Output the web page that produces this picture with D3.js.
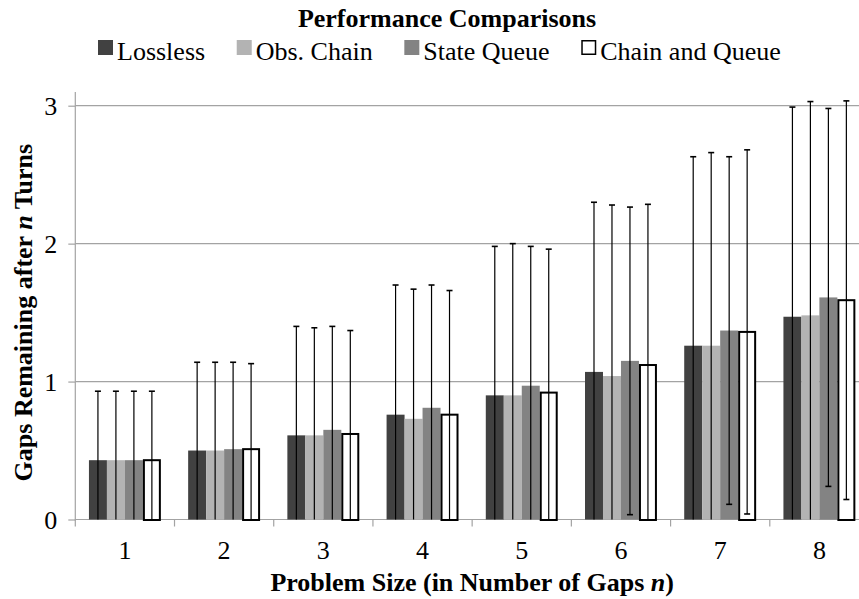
<!DOCTYPE html>
<html>
<head>
<meta charset="utf-8">
<script src="https://cdn.jsdelivr.net/npm/d3@7"></script>
<style>
  html, body { margin: 0; padding: 0; background: #fff; }
  svg { display: block; }
  text { font-family: "Liberation Serif", "Times New Roman", serif; fill: #000; }
</style>
</head>
<body>
<svg id="chart" width="859" height="599"></svg>
<script>
const categories = ["1", "2", "3", "4", "5", "6", "7", "8"];
const seriesNames = ["Lossless", "Obs. Chain", "State Queue", "Chain and Queue"];
const lossless    = [0.43, 0.50, 0.61, 0.76, 0.90, 1.07, 1.26, 1.47];
const obsChain    = [0.43, 0.50, 0.61, 0.73, 0.90, 1.04, 1.26, 1.48];
const stateQueue  = [0.43, 0.51, 0.65, 0.81, 0.97, 1.15, 1.37, 1.61];
const chainQueue  = [0.43, 0.51, 0.62, 0.76, 0.92, 1.12, 1.36, 1.59];
const errLossless   = [0.50, 0.64, 0.79, 0.94, 1.08, 1.23, 1.37, 1.52];
const errObsChain   = [0.50, 0.64, 0.78, 0.94, 1.10, 1.24, 1.40, 1.55];
const errStateQueue = [0.50, 0.63, 0.75, 0.89, 1.01, 1.115, 1.26, 1.37];
const errChainQueue = [0.50, 0.62, 0.75, 0.90, 1.04, 1.165, 1.32, 1.445];
const yTicks = [0, 1, 2, 3];

const seriesValues = [lossless, obsChain, stateQueue, chainQueue];
const seriesErrors = [errLossless, errObsChain, errStateQueue, errChainQueue];
const fills = ["#414141", "#b3b3b3", "#838383", "#ffffff"];

const svg = d3.select("#chart");
const pLeft = 75.3, pRight = 869, pTop = 105.7, pBottom = 519.5;
const gridColor = "#a3a3a3";

const x = d3.scaleBand().domain(categories).range([pLeft, pRight]).paddingInner(0.275).paddingOuter(0.1375);
const xs = d3.scaleBand().domain(seriesNames).range([0, x.bandwidth()]);
const y = d3.scaleLinear().domain([0, 3]).range([pBottom, pTop]);

// gridlines
svg.append("g").selectAll("line").data(yTicks.filter(d => d > 0)).join("line")
  .attr("x1", pLeft).attr("x2", pRight)
  .attr("y1", d => y(d)).attr("y2", d => y(d))
  .attr("stroke", gridColor).attr("stroke-width", 1.2);

// y axis
const yAxis = svg.append("g").attr("transform", `translate(${pLeft},0)`)
  .call(d3.axisLeft(y).tickValues(yTicks).tickSize(7).tickFormat(d3.format("d")));
yAxis.select(".domain").remove();
yAxis.selectAll(".tick line").attr("stroke", gridColor).attr("stroke-width", 1.2);
yAxis.selectAll(".tick text").attr("x", -18).attr("dy", "0.33em")
  .style("font-size", "26px").style("font-family", '"Liberation Serif", serif');
svg.append("line").attr("x1", pLeft).attr("x2", pLeft).attr("y1", y(3.1)).attr("y2", pBottom + 1)
  .attr("stroke", gridColor).attr("stroke-width", 1.2);

// x axis
const xAxis = svg.append("g").attr("transform", `translate(0,${pBottom})`)
  .call(d3.axisBottom(x).tickSize(0));
xAxis.select(".domain").remove();
xAxis.selectAll(".tick text").attr("y", 39.5).attr("dy", 0)
  .style("font-size", "26px").style("font-family", '"Liberation Serif", serif');
svg.append("line").attr("x1", pLeft).attr("x2", pRight).attr("y1", pBottom).attr("y2", pBottom)
  .attr("stroke", gridColor).attr("stroke-width", 1.2);
const step = x.step();
svg.append("g").selectAll("line").data(d3.range(categories.length + 1)).join("line")
  .attr("x1", i => pLeft + i * step).attr("x2", i => pLeft + i * step)
  .attr("y1", pBottom).attr("y2", pBottom + 7)
  .attr("stroke", gridColor).attr("stroke-width", 1.2);

// bars
const groups = svg.append("g").selectAll("g").data(categories).join("g")
  .attr("transform", d => `translate(${x(d)},0)`);

seriesNames.forEach((name, si) => {
  const isOutline = si === 3;
  groups.append("rect")
    .attr("x", () => xs(name) + (isOutline ? 1 : 0))
    .attr("width", xs.bandwidth() - (isOutline ? 2 : 0))
    .attr("y", (d, i) => y(seriesValues[si][i]))
    .attr("height", (d, i) => pBottom - y(seriesValues[si][i]) + (isOutline ? 0.5 : 0))
    .attr("fill", fills[si])
    .attr("stroke", isOutline ? "#000" : "none")
    .attr("stroke-width", isOutline ? 2 : 0);
});

// error bars
seriesNames.forEach((name, si) => {
  const cx = xs(name) + xs.bandwidth() / 2;
  const vals = seriesValues[si], errs = seriesErrors[si];
  const hi = d => { const i = categories.indexOf(d); return y(vals[i] + errs[i]); };
  const lo = d => { const i = categories.indexOf(d); return y(Math.max(0, vals[i] - errs[i])); };
  const eb = groups.append("g");
  eb.append("line")
    .attr("x1", cx).attr("x2", cx)
    .attr("y1", hi).attr("y2", lo)
    .attr("stroke", "#000").attr("stroke-width", 1.2);
  eb.append("line")
    .attr("x1", cx - 3).attr("x2", cx + 3)
    .attr("y1", hi).attr("y2", hi)
    .attr("stroke", "#000").attr("stroke-width", 1.6);
  eb.filter(d => { const i = categories.indexOf(d); return vals[i] - errs[i] > 0; })
    .append("line")
    .attr("x1", cx - 3).attr("x2", cx + 3)
    .attr("y1", lo).attr("y2", lo)
    .attr("stroke", "#000").attr("stroke-width", 1.6);
});

// title
svg.append("text").attr("x", 447).attr("y", 26.5).attr("text-anchor", "middle")
  .style("font-size", "26px").style("font-weight", "bold").text("Performance Comparisons");

// legend
let lx = 98;
seriesNames.forEach((name, si) => {
  svg.append("rect").attr("x", lx + (si === 3 ? 0.75 : 0)).attr("y", 40 + (si === 3 ? 0.75 : 0))
    .attr("width", si === 3 ? 13.5 : 15).attr("height", si === 3 ? 13.5 : 15)
    .attr("fill", fills[si]).attr("stroke", si === 3 ? "#000" : "none").attr("stroke-width", 1.5);
  const t = svg.append("text").attr("x", lx + 19).attr("y", 60).style("font-size", "26px").text(name);
  lx += 19 + t.node().getComputedTextLength() + 31.6;
});

// x axis title
const xt = svg.append("text").attr("x", (pLeft + pRight) / 2).attr("y", 591).attr("text-anchor", "middle")
  .style("font-size", "26px").style("font-weight", "bold");
xt.append("tspan").text("Problem Size (in Number of Gaps ");
xt.append("tspan").style("font-style", "italic").text("n");
xt.append("tspan").text(")");

// y axis title
const yt = svg.append("text").attr("transform", `translate(32,${(pTop + pBottom) / 2}) rotate(-90)`)
  .attr("text-anchor", "middle").style("font-size", "26px").style("font-weight", "bold");
yt.append("tspan").text("Gaps Remaining after ");
yt.append("tspan").style("font-style", "italic").text("n");
yt.append("tspan").text(" Turns");
</script>
</body>
</html>
